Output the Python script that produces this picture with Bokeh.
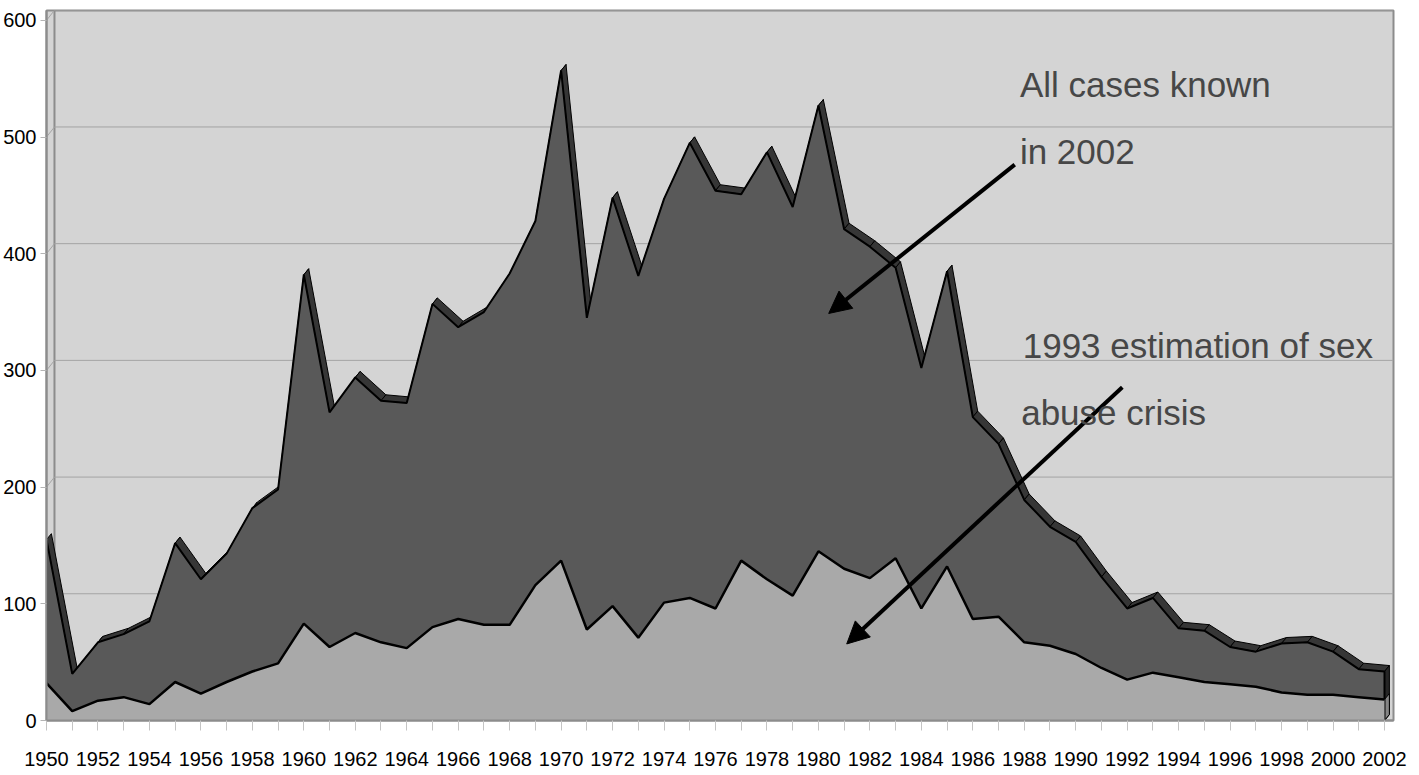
from bokeh.plotting import figure
from bokeh.models import Range1d, FixedTicker, Arrow, NormalHead, Label, Span
from bokeh.embed import file_html
from bokeh.resources import INLINE

# ---- data -------------------------------------------------------------
years = list(range(1950, 2003))

all_cases_2002 = [
    155, 40, 67, 74, 85, 152, 121, 143, 182, 198,
    382, 264, 294, 274, 272, 357, 337, 350, 383, 428,
    557, 345, 448, 381, 447, 495, 454, 451, 487, 440,
    527, 421, 406, 388, 302, 385, 260, 237, 189, 166,
    153, 123, 96, 105, 79, 77, 63, 59, 66, 67,
    59, 44, 42,
]

estimate_1993 = [
    32, 8, 17, 20, 14, 33, 23, 33, 42, 49,
    83, 63, 75, 67, 62, 80, 87, 82, 82, 116,
    137, 78, 98, 71, 101, 105, 96, 137, 121, 107,
    145, 130, 122, 139, 96, 132, 87, 89, 67, 64,
    57, 45, 35, 41, 37, 33, 31, 29, 24, 22,
    22, 20, 18,
]

y_ticks = [0, 100, 200, 300, 400, 500, 600]
x_labels = {yr: (str(yr) if yr % 2 == 0 else "") for yr in years}

notes = ["All cases known", "in 2002", "1993 estimation of sex", "abuse crisis"]
note_x = [1987.83, 1987.83, 1987.94, 1987.88]
note_y = [545, 488, 321, 264]

arrow_tail_x = [1987.63, 1991.81]
arrow_tail_y = [476.3, 285.6]
arrow_tip_x = [1980.4, 1981.1]
arrow_tip_y = [348.8, 65.6]

# ---- styling constants --------------------------------------------------
FONT = "Liberation Sans"
X_END = 2002.35
Y_END = 608.4
WALL_DX, WALL_DY = 0.31, 8.6      # depth of the back wall (data units)
DEPTH_DX, DEPTH_DY = 0.19, 5.1    # depth of the area ribbon (data units)

p = figure(
    width=1419, height=775,
    x_range=Range1d(1950, X_END), y_range=Range1d(0, Y_END),
    output_backend="svg", toolbar_location=None,
    min_border_left=45, min_border_right=26,
    min_border_top=10, min_border_bottom=55,
    background_fill_color="#d4d4d4", border_fill_color="white",
    outline_line_color="#8c8c8c", outline_line_width=2,
)
p.xgrid.visible = False
p.ygrid.visible = False

# back wall: left edge and gridlines with their diagonal on the side wall
p.add_layout(Span(location=1950 + WALL_DX, dimension="height",
                  line_color="#8c8c8c", line_width=2, level="underlay"))
grid_xs = [[1950, 1950 + WALL_DX, X_END] for v in y_ticks[1:]]
grid_ys = [[v, v + WALL_DY, v + WALL_DY] for v in y_ticks[1:]]
p.multi_line(grid_xs, grid_ys, line_color="#a4a4a4", line_width=1)

# top face of the dark ribbon, one quad per segment
n = len(years)
band_xs = [[years[i], years[i + 1], years[i + 1] + DEPTH_DX, years[i] + DEPTH_DX]
           for i in range(n - 1)]
band_ys = [[all_cases_2002[i], all_cases_2002[i + 1],
            all_cases_2002[i + 1] + DEPTH_DY, all_cases_2002[i] + DEPTH_DY]
           for i in range(n - 1)]
p.patches(band_xs, band_ys, fill_color="#363636", line_color="black", line_width=1)

# right side faces at the last year
last = years[-1]
p.patches(
    [[last, last, last + DEPTH_DX, last + DEPTH_DX],
     [last, last, last + DEPTH_DX, last + DEPTH_DX]],
    [[0, all_cases_2002[-1], all_cases_2002[-1] + DEPTH_DY, DEPTH_DY],
     [0, estimate_1993[-1], estimate_1993[-1] + DEPTH_DY, DEPTH_DY]],
    fill_color=["#262626", "#858585"], line_color="black", line_width=1,
)

# front faces
p.patch([years[0]] + years + [years[-1]], [0] + all_cases_2002 + [0],
        fill_color="#595959", line_color="black", line_width=2)
p.varea(x=years, y1=[0] * n, y2=estimate_1993, fill_color="#a9a9a9")
p.line(years, estimate_1993, line_color="black", line_width=2.5)

# arrows and notes
for xs, ys, xe, ye in zip(arrow_tail_x, arrow_tail_y, arrow_tip_x, arrow_tip_y):
    p.add_layout(Arrow(x_start=xs, y_start=ys, x_end=xe, y_end=ye,
                       line_color="black", line_width=4,
                       end=NormalHead(size=22, fill_color="black", line_color="black")))
for t, x, y in zip(notes, note_x, note_y):
    p.add_layout(Label(x=x, y=y, text=t, text_font=FONT, text_font_size="35px",
                       text_color="#474747", text_baseline="middle"))

# axes
p.xaxis.ticker = FixedTicker(ticks=years)
p.xaxis.major_label_overrides = x_labels
p.xaxis.minor_tick_line_color = None
p.xaxis.major_tick_out = 10
p.xaxis.major_tick_in = 0
p.xaxis.major_tick_line_color = "#c4c4c4"
p.xaxis.axis_line_color = "#8c8c8c"
p.xaxis.axis_line_width = 2
p.xaxis.major_label_standoff = 21
p.xaxis.major_label_text_font = FONT
p.xaxis.major_label_text_font_size = "20px"
p.xaxis.major_label_text_color = "black"

p.yaxis.ticker = FixedTicker(ticks=y_ticks)
p.yaxis.minor_tick_line_color = None
p.yaxis.major_tick_out = 6
p.yaxis.major_tick_in = 0
p.yaxis.major_tick_line_color = "#b4b4b4"
p.yaxis.axis_line_color = "#8c8c8c"
p.yaxis.axis_line_width = 2
p.yaxis.major_label_standoff = 4
p.yaxis.major_label_text_font = FONT
p.yaxis.major_label_text_font_size = "20px"
p.yaxis.major_label_text_color = "black"

open("out.html", "w").write(file_html(p, INLINE))
